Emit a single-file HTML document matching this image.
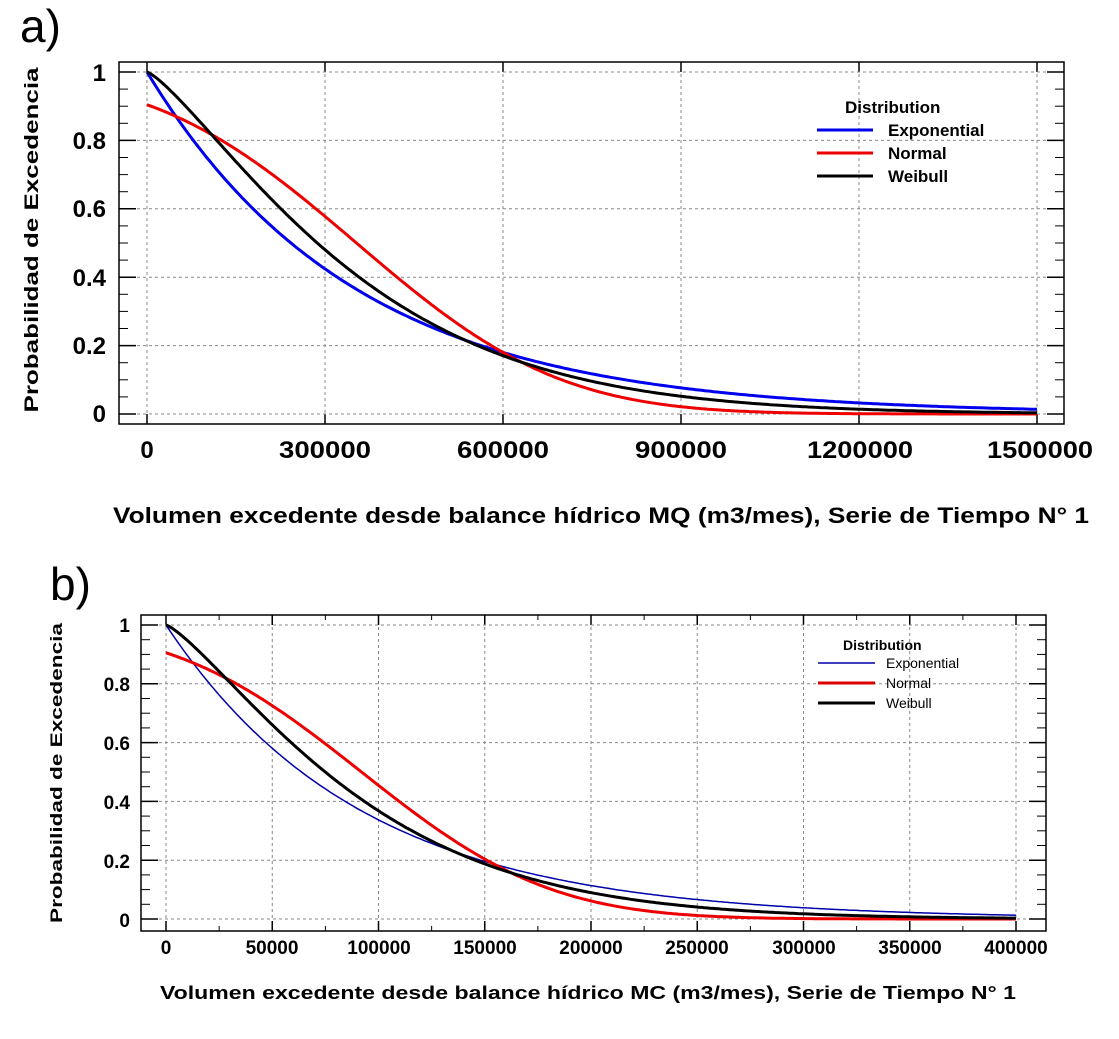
<!DOCTYPE html>
<html><head><meta charset="utf-8"><style>
body{margin:0;background:#fff}
svg{display:block;font-family:"Liberation Sans",Arial,sans-serif}
</style></head><body>
<svg id="s" width="1119" height="1039" viewBox="0 0 1119 1039" xmlns="http://www.w3.org/2000/svg">
<rect width="1119" height="1039" fill="#fff"/>
<text x="20" y="42" font-size="46">a)</text>
<text x="50" y="600" font-size="46">b)</text>
<g id="A"></g><g id="B"></g>
<g font-weight="bold" font-size="24" text-anchor="middle">
<text x="147" y="458">0</text>
<text x="325" y="458" textLength="92" lengthAdjust="spacingAndGlyphs">300000</text>
<text x="503" y="458" textLength="92" lengthAdjust="spacingAndGlyphs">600000</text>
<text x="681" y="458" textLength="92" lengthAdjust="spacingAndGlyphs">900000</text>
<text x="860" y="458" textLength="106" lengthAdjust="spacingAndGlyphs">1200000</text>
<text x="1040" y="458" textLength="106" lengthAdjust="spacingAndGlyphs">1500000</text>
</g>
<g font-weight="bold" font-size="24" text-anchor="end">
<text x="106" y="81">1</text><text x="106" y="149">0.8</text><text x="106" y="217">0.6</text>
<text x="106" y="286">0.4</text><text x="106" y="354">0.2</text><text x="106" y="422">0</text>
</g>
<text x="113" y="523" font-weight="bold" font-size="22" textLength="976" lengthAdjust="spacingAndGlyphs">Volumen excedente desde balance hídrico MQ (m3/mes), Serie de Tiempo N° 1</text>
<text transform="translate(38,240) rotate(-90)" text-anchor="middle" font-weight="bold" font-size="19" textLength="345" lengthAdjust="spacingAndGlyphs">Probabilidad de Excedencia</text>
<g font-weight="bold" font-size="17">
<text x="845" y="113">Distribution</text>
<text x="888" y="136">Exponential</text><text x="888" y="159">Normal</text><text x="888" y="182">Weibull</text>
</g>
<line x1="817" y1="130" x2="873" y2="130" stroke="#0000ee" stroke-width="3"/>
<line x1="817" y1="153" x2="873" y2="153" stroke="#e00" stroke-width="3"/>
<line x1="817" y1="176" x2="873" y2="176" stroke="#000" stroke-width="3"/>
<g font-weight="bold" font-size="19" text-anchor="middle">
<text x="166" y="954">0</text>
<text x="272" y="954">50000</text><text x="379" y="954">100000</text><text x="485" y="954">150000</text>
<text x="591" y="954">200000</text><text x="697" y="954">250000</text><text x="804" y="954">300000</text>
<text x="910" y="954">350000</text><text x="1016" y="954">400000</text>
</g>
<g font-weight="bold" font-size="19" text-anchor="end">
<text x="130" y="632">1</text><text x="130" y="691">0.8</text><text x="130" y="750">0.6</text>
<text x="130" y="809">0.4</text><text x="130" y="868">0.2</text><text x="130" y="927">0</text>
</g>
<text x="160" y="999" font-weight="bold" font-size="18" textLength="856" lengthAdjust="spacingAndGlyphs">Volumen excedente desde balance hídrico MC (m3/mes), Serie de Tiempo N° 1</text>
<text transform="translate(62,773) rotate(-90)" text-anchor="middle" font-weight="bold" font-size="17" textLength="300" lengthAdjust="spacingAndGlyphs">Probabilidad de Excedencia</text>
<g font-size="14">
<text x="843" y="650" font-weight="bold">Distribution</text>
<text x="886" y="668">Exponential</text><text x="886" y="688">Normal</text><text x="886" y="708">Weibull</text>
</g>
<line x1="818" y1="663" x2="875" y2="663" stroke="#00a" stroke-width="1.5"/>
<line x1="818" y1="683" x2="875" y2="683" stroke="#d00" stroke-width="3"/>
<line x1="818" y1="703" x2="875" y2="703" stroke="#000" stroke-width="3"/>
</svg>
<script>
function erf(x){var s=x<0?-1:1;x=Math.abs(x);var t=1/(1+0.3275911*x);var y=1-(((((1.061405429*t-1.453152027)*t)+1.421413741)*t-0.284496736)*t+0.254829592)*t*Math.exp(-x*x);return s*y;}
function ncdfc(z){return 0.5*(1-erf(z/Math.SQRT2));}
function panel(id,o){
 var g=document.getElementById(id),h='';
 h+='<rect x="'+o.L+'" y="'+o.T+'" width="'+(o.R-o.L)+'" height="'+(o.B-o.T)+'" fill="none" stroke="#000" stroke-width="1.5"/>';
 var X=function(v){return o.x0+(o.x1-o.x0)*v/o.xmax},Y=function(p){return o.y0+(o.y1-o.y0)*p};
 for(var i=0;i<=o.nx;i++){var x=X(o.xmax*i/o.nx);
  h+='<line x1="'+x+'" y1="'+o.T+'" x2="'+x+'" y2="'+o.B+'" stroke="#888" stroke-dasharray="3,3"/>';
  h+='<line x1="'+x+'" y1="'+o.B+'" x2="'+x+'" y2="'+(o.B-10)+'" stroke="#000" stroke-width="1.5"/>';
  h+='<line x1="'+x+'" y1="'+o.T+'" x2="'+x+'" y2="'+(o.T+10)+'" stroke="#000" stroke-width="1.5"/>';
  if(o.minor&&i<o.nx){for(var k=1;k<o.minor;k++){var xm=X(o.xmax*(i+k/o.minor)/o.nx);
   h+='<line x1="'+xm+'" y1="'+o.B+'" x2="'+xm+'" y2="'+(o.B-5)+'" stroke="#000"/><line x1="'+xm+'" y1="'+o.T+'" x2="'+xm+'" y2="'+(o.T+5)+'" stroke="#000"/>';}}
 }
 for(var j=0;j<=5;j++){var y=Y(j*0.2);
  h+='<line x1="'+o.L+'" y1="'+y+'" x2="'+o.R+'" y2="'+y+'" stroke="#888" stroke-dasharray="3,3"/>';
  h+='<line x1="'+o.L+'" y1="'+y+'" x2="'+(o.L+17)+'" y2="'+y+'" stroke="#000" stroke-width="1.5"/>';
  h+='<line x1="'+o.R+'" y1="'+y+'" x2="'+(o.R-17)+'" y2="'+y+'" stroke="#000" stroke-width="1.5"/>';
  if(j<5){for(var k=1;k<4;k++){var ym=Y((j+k/4)*0.2);
   h+='<line x1="'+o.L+'" y1="'+ym+'" x2="'+(o.L+9)+'" y2="'+ym+'" stroke="#000"/><line x1="'+o.R+'" y1="'+ym+'" x2="'+(o.R-9)+'" y2="'+ym+'" stroke="#000"/>';}}
 }
 var fs=[[function(x){return Math.exp(-x/o.m)},o.cb,o.wb],
  [function(x){return ncdfc((x-o.mu)/o.sd)},'#e00',3],
  [function(x){return Math.exp(-Math.pow(x/o.lam,o.k))},'#000',3]];
 fs.forEach(function(f){var d='';for(var i=0;i<=300;i++){var v=o.xmax*i/300;d+=(i?'L':'M')+X(v).toFixed(1)+','+Y(f[0](v)).toFixed(1);}
  h+='<path d="'+d+'" fill="none" stroke="'+f[1]+'" stroke-width="'+f[2]+'"/>';});
 g.innerHTML=h;
}
panel('A',{L:119,T:62,R:1064,B:424,x0:147,x1:1037,xmax:1500000,y0:414,y1:72,nx:5,minor:0,m:350000,mu:353000,sd:270000,lam:383000,k:1.27,cb:'#0000ee',wb:3});
panel('B',{L:141,T:615,R:1046,B:931,x0:166,x1:1016,xmax:400000,y0:919,y1:625,nx:8,minor:2,m:92000,mu:92000,sd:70000,lam:100000,k:1.27,cb:'#00a',wb:1.5});
</script>
</body></html>
